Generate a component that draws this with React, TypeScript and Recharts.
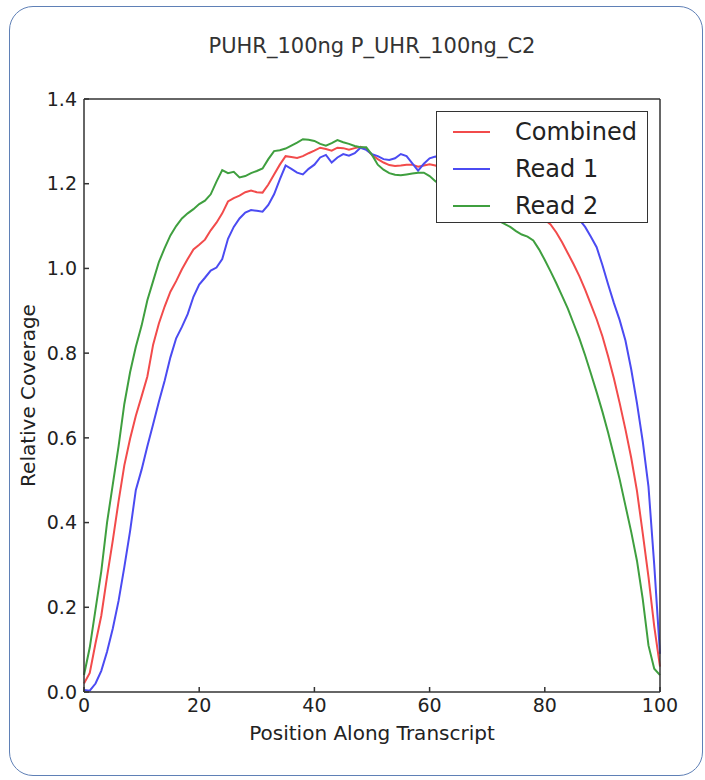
import { LineChart, Line, XAxis, YAxis, Legend } from "recharts";

const title = "PUHR_100ng P_UHR_100ng_C2";
const xLabel = "Position Along Transcript";
const yLabel = "Relative Coverage";
const xTicks = [0, 20, 40, 60, 80, 100];
const yTicks = [0, 0.2, 0.4, 0.6, 0.8, 1.0, 1.2, 1.4];

const positions = [
  0, 1, 2, 3, 4, 5, 6, 7, 8, 9, 10, 11, 12, 13, 14, 15, 16, 17, 18, 19, 20,
  21, 22, 23, 24, 25, 26, 27, 28, 29, 30, 31, 32, 33, 34, 35, 36, 37, 38, 39, 40,
  41, 42, 43, 44, 45, 46, 47, 48, 49, 50, 51, 52, 53, 54, 55, 56, 57, 58, 59, 60,
  61, 62, 63, 64, 65, 66, 67, 68, 69, 70, 71, 72, 73, 74, 75, 76, 77, 78, 79, 80,
  81, 82, 83, 84, 85, 86, 87, 88, 89, 90, 91, 92, 93, 94, 95, 96, 97, 98, 99, 100,
];

const combined = [
  0.02, 0.045, 0.115, 0.18, 0.272, 0.358, 0.45, 0.535, 0.598, 0.652, 0.698,
  0.745, 0.82, 0.87, 0.91, 0.945, 0.97, 0.998, 1.022, 1.045, 1.056,
  1.068, 1.09, 1.108, 1.13, 1.158, 1.166, 1.172, 1.18, 1.184, 1.18,
  1.179, 1.198, 1.222, 1.245, 1.265, 1.263, 1.261, 1.265, 1.272, 1.278,
  1.285, 1.282, 1.278, 1.285, 1.284, 1.28, 1.284, 1.287, 1.282, 1.268,
  1.258, 1.25, 1.244, 1.242, 1.243, 1.245, 1.245, 1.24, 1.243, 1.246,
  1.243, 1.238, 1.234, 1.23, 1.226, 1.222, 1.218, 1.213, 1.208, 1.202,
  1.196, 1.19, 1.183, 1.176, 1.168, 1.16, 1.15, 1.14, 1.128, 1.115,
  1.104, 1.085, 1.062, 1.036, 1.01, 0.982, 0.95, 0.915, 0.88, 0.84,
  0.792, 0.74, 0.682, 0.62, 0.553, 0.475, 0.375, 0.272, 0.155, 0.06,
];

const read1 = [
  0.005, 0.003, 0.02, 0.05, 0.095, 0.15, 0.215, 0.295, 0.38, 0.477, 0.525,
  0.58, 0.632, 0.685, 0.735, 0.79, 0.835, 0.862, 0.892, 0.933, 0.962,
  0.978, 0.995, 1.002, 1.022, 1.07, 1.098, 1.118, 1.132, 1.138, 1.136,
  1.134, 1.15, 1.175, 1.21, 1.243, 1.235, 1.226, 1.222, 1.235, 1.245,
  1.262, 1.268, 1.25, 1.262, 1.27, 1.266, 1.272, 1.285, 1.28, 1.27,
  1.265, 1.258, 1.256, 1.26, 1.27, 1.265, 1.248, 1.231, 1.247, 1.26,
  1.264, 1.262, 1.26, 1.257, 1.254, 1.25, 1.247, 1.243, 1.24, 1.236,
  1.232, 1.228, 1.224, 1.219, 1.214, 1.208, 1.202, 1.195, 1.188, 1.18,
  1.172, 1.163, 1.153, 1.142, 1.13, 1.115, 1.098, 1.075, 1.05, 1.008,
  0.962, 0.918, 0.878, 0.83, 0.762, 0.682, 0.592, 0.485, 0.3, 0.09,
];

const read2 = [
  0.04, 0.105, 0.195, 0.285, 0.4, 0.49, 0.58, 0.68, 0.755, 0.815, 0.865,
  0.925, 0.97, 1.015, 1.048, 1.078, 1.1, 1.118, 1.13, 1.14, 1.152,
  1.16, 1.175, 1.205, 1.232, 1.225, 1.228, 1.215, 1.218, 1.225, 1.23,
  1.236, 1.258, 1.277, 1.279, 1.283, 1.29, 1.297, 1.305, 1.304, 1.301,
  1.294, 1.29, 1.296, 1.303, 1.298, 1.294, 1.289, 1.286, 1.286, 1.268,
  1.245, 1.233, 1.225, 1.221, 1.22, 1.222, 1.224, 1.226, 1.226, 1.218,
  1.206, 1.196, 1.188, 1.18, 1.172, 1.165, 1.158, 1.15, 1.14, 1.13,
  1.12, 1.112, 1.105, 1.098, 1.088, 1.08, 1.075, 1.066, 1.045, 1.02,
  0.993, 0.965, 0.935, 0.905, 0.87, 0.835, 0.795, 0.752, 0.708, 0.662,
  0.612, 0.558, 0.502, 0.44, 0.378, 0.31, 0.22, 0.11, 0.055, 0.04,
];

const rows = positions.map((p, i) => ({
  pos: p,
  combined: combined[i],
  read1: read1[i],
  read2: read2[i],
}));

const series = [
  { key: "combined", name: "Combined", color: "#f24b4b" },
  { key: "read1", name: "Read 1", color: "#4b4bf2" },
  { key: "read2", name: "Read 2", color: "#3f9f3f" },
];

const font = "'DejaVu Sans', sans-serif";
const tickStyle = { fontSize: 19, fill: "#222", fontFamily: font };
const labelStyle = { fontSize: 20, fill: "#222", fontFamily: font };

function LegendBox() {
  return (
    <div
      style={{
        width: 212,
        height: 112,
        boxSizing: "border-box",
        border: "1.5px solid #333",
        background: "#fff",
        position: "relative",
        fontFamily: font,
        fontSize: 24,
        color: "#222",
      }}
    >
      {series.map((s, i) => (
        <div key={s.key} style={{ position: "absolute", left: 0, top: 5 + i * 37, height: 30, width: "100%" }}>
          <div style={{ position: "absolute", left: 16, top: 14, width: 37, height: 2, background: s.color }} />
          <div style={{ position: "absolute", left: 78, top: 0, lineHeight: "30px", whiteSpace: "nowrap" }}>{s.name}</div>
        </div>
      ))}
    </div>
  );
}

export default function App() {
  return (
    <div style={{ position: "absolute", left: 0, top: 0, width: 705, height: 780, background: "#fff" }}>
      <div
        style={{
          position: "absolute",
          left: 9,
          top: 6,
          width: 694,
          height: 770,
          boxSizing: "border-box",
          border: "1.5px solid #5f80b6",
          borderRadius: 24,
        }}
      />
      <div
        style={{
          position: "absolute",
          left: 0,
          width: 744,
          top: 34,
          textAlign: "center",
          fontFamily: font,
          fontSize: 21,
          color: "#333",
          whiteSpace: "nowrap",
        }}
      >
        {title}
      </div>
      <div style={{ position: "absolute", left: 0, top: 0 }}>
        <LineChart width={705} height={780} data={rows} margin={{ top: 98, right: 44, bottom: 38, left: 0 }}>
          <XAxis
            dataKey="pos"
            type="number"
            domain={[0, 100]}
            ticks={xTicks}
            height={50}
            stroke="#333"
            strokeWidth={1.5}
            tickSize={-5}
            tickMargin={12}
            tick={tickStyle}
            label={{ value: xLabel, position: "insideBottom", offset: 2, style: labelStyle }}
          />
          <XAxis
            xAxisId="top"
            orientation="top"
            dataKey="pos"
            type="number"
            domain={[0, 100]}
            ticks={xTicks}
            height={1}
            stroke="#333"
            strokeWidth={1.5}
            tickSize={-5}
            tick={false}
          />
          <YAxis
            type="number"
            domain={[0, 1.4]}
            ticks={yTicks}
            width={84}
            stroke="#333"
            strokeWidth={1.5}
            tickSize={-5}
            tickMargin={12}
            tick={tickStyle}
            tickFormatter={(v: number) => v.toFixed(1)}
            label={{ value: yLabel, angle: -90, position: "insideLeft", offset: 28, style: { ...labelStyle, textAnchor: "middle" } }}
          />
          <YAxis
            yAxisId="right"
            orientation="right"
            type="number"
            domain={[0, 1.4]}
            ticks={yTicks}
            width={1}
            stroke="#333"
            strokeWidth={1.5}
            tickSize={-5}
            tick={false}
          />
          {series.map((s) => (
            <Line
              key={s.key}
              dataKey={s.key}
              name={s.name}
              stroke={s.color}
              strokeWidth={2}
              dot={false}
              type="linear"
              isAnimationActive={false}
            />
          ))}
          <Legend
            layout="vertical"
            verticalAlign="middle"
            align="center"
            wrapperStyle={{ position: "absolute", left: 436, top: 111, width: 212, height: 112 }}
            content={() => <LegendBox />}
          />
        </LineChart>
      </div>
    </div>
  );
}
